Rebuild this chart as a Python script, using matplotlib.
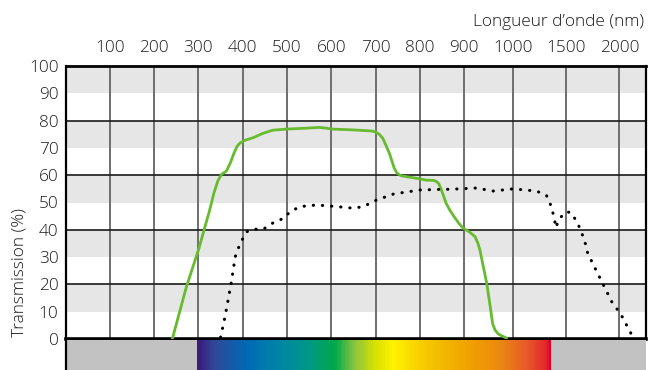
import numpy as np
import matplotlib
matplotlib.use('Agg')
import matplotlib.pyplot as plt
from matplotlib.colors import LinearSegmentedColormap

plt.rcParams['font.family'] = ['Open Sans', 'DejaVu Sans']
plt.rcParams['font.weight'] = 'light'

# --- data (wavelength in nm, transmission in %) ---
green_nm = [241, 273, 300, 325, 335, 344, 352, 363, 372, 380, 387, 393, 405, 423,
            445, 468, 500, 540, 573, 590, 601, 648, 690, 699, 708, 716, 723, 731,
            737, 742, 748, 757, 791, 814, 830, 836, 842, 847, 853, 859, 868, 877,
            888, 898, 910, 922, 928, 932, 946, 953, 958, 963, 970, 987]
green_pct = [0, 19.2, 32.6, 47, 53.5, 58, 60.3, 61.5, 64.5, 68, 70.5, 71.7, 72.8,
             73.7, 75.3, 76.5, 76.9, 77.2, 77.5, 77.2, 76.9, 76.6, 76.2, 75.9, 75.0,
             73.5, 71, 68, 65, 62.5, 60.8, 59.8, 58.9, 58.2, 58.1, 57.8, 57, 55.2,
             52.5, 49.7, 47, 44.8, 42.3, 40.5, 39.3, 37.5, 35, 32.6, 20.4, 12, 5.7,
             3.3, 1.8, 0.3]

dot_nm = [350, 360, 367, 375, 383, 394, 409, 424, 447, 469, 492, 507, 529, 567,
          612, 650, 672, 702, 740, 800, 875, 925, 959, 1000, 1219, 1313, 1360,
          1391, 1400, 1438, 1500, 1546, 1608, 1671, 1702, 1764, 1842, 1935, 2009,
          2116]
dot_pct = [0.6, 8.2, 14.3, 21.6, 30.1, 35, 39.3, 40.2, 40.3, 42.6, 44.2, 46.6,
           48.5, 49.1, 48.5, 47.9, 48.5, 50.9, 53.1, 54.6, 54.9, 55.3, 54.2, 55,
           54.2, 52.7, 48.5, 43.6, 40.8, 44.2, 46.6, 46.3, 42.4, 36.3, 31.4, 26.5,
           20.4, 13.1, 9.4, 1.5]

xticks = [100, 200, 300, 400, 500, 600, 700, 800, 900, 1000, 1500, 2000]
yticks = [0, 10, 20, 30, 40, 50, 60, 70, 80, 90, 100]

# spectrum strip under the axis
spec_nm = [297, 337, 405, 473, 541, 608, 653, 698, 739, 823, 912, 973, 1156, 1325, 1353]
spec_col = ['#3b1a7a', '#2e4a9a', '#0068b4', '#0082a8', '#00958a', '#00a94a',
            '#8cc63f', '#d7e000', '#fff200', '#f5c400', '#f0a000', '#ec8a10',
            '#e6552a', '#e3262a', '#e4002b']

# piecewise axis: 0-1000 nm stretched, then 1500 / 2000 compressed
brk_nm = [0, 900, 1000, 1500, 2000, 2500]
brk_pos = [0, 9.0, 10.1, 11.3, 12.5, 13.7]

def fwd(x):
    return np.interp(x, brk_nm, brk_pos)

def inv(x):
    return np.interp(x, brk_pos, brk_nm)

FS = 12.4

fig = plt.figure(figsize=(6.5, 3.7), dpi=100)
ax = fig.add_axes([65.5/650, 31/370, 580.5/650, 273/370])
sx = fig.add_axes([65.5/650, 0, 580.5/650, 30/370])

for a in (ax, sx):
    a.set_xscale('function', functions=(fwd, inv))
    a.set_xlim(0, 2250)

# bands
for lo in range(10, 100, 20):
    ax.axhspan(lo, lo + 10, color='#e6e6e6', lw=0, zorder=0)
for x in xticks:
    ax.axvline(x, color='#6e6e6e', lw=1.4, zorder=1)
for y in (20, 40, 60, 80):
    ax.axhline(y, color='#1a1a1a', lw=1.2, zorder=1)

ax.plot(green_nm, green_pct, color='#66bb2e', lw=2.0, zorder=3,
        solid_capstyle='round', solid_joinstyle='round')
ax.plot(dot_nm, dot_pct, color='black', lw=2.2, zorder=3,
        linestyle=(0, (0.1, 2.9)), dash_capstyle='round')

ax.set_ylim(0, 100)
ax.set_yticks(yticks)
ax.xaxis.tick_top()
ax.set_xticks(xticks)
ax.set_xticklabels([str(t) for t in xticks])
ax.tick_params(axis='x', length=0, pad=7, labelsize=FS, colors='#1a1a1a')
ax.tick_params(axis='y', length=0, pad=5, labelsize=FS, colors='#1a1a1a')
ax.minorticks_off()
for s in ax.spines.values():
    s.set_color('black')
    s.set_linewidth(1.6)
ax.spines['bottom'].set_linewidth(2.6)
ax.spines['top'].set_linewidth(2.0)

# spectrum strip
sx.set_facecolor('#c2c2c2')
cmap = LinearSegmentedColormap.from_list(
    'spec', list(zip([(fwd(v) - fwd(spec_nm[0])) / (fwd(spec_nm[-1]) - fwd(spec_nm[0]))
                      for v in spec_nm], spec_col)))
edges = inv(np.linspace(fwd(spec_nm[0]), fwd(spec_nm[-1]), 400))
vals = np.linspace(0, 1, 399)[None, :]
sx.pcolormesh(edges, [0, 1], vals, cmap=cmap, shading='flat')
sx.set_ylim(0, 1)
sx.set_xticks([])
sx.set_yticks([])
sx.minorticks_off()
for s in sx.spines.values():
    s.set_visible(False)
sx.spines['left'].set_visible(True)
sx.spines['left'].set_linewidth(1.6)
sx.spines['left'].set_color('black')

fig.text(644/650, 1 - 22/370, 'Longueur d\u2019onde (nm)', ha='right', va='center',
         fontsize=FS, color='#1a1a1a')
fig.text(20/650, 1 - 337/370, 'Transmission (%)', rotation=90, ha='center',
         va='bottom', fontsize=FS, color='#1a1a1a')

fig.savefig('out.png', dpi=100)
